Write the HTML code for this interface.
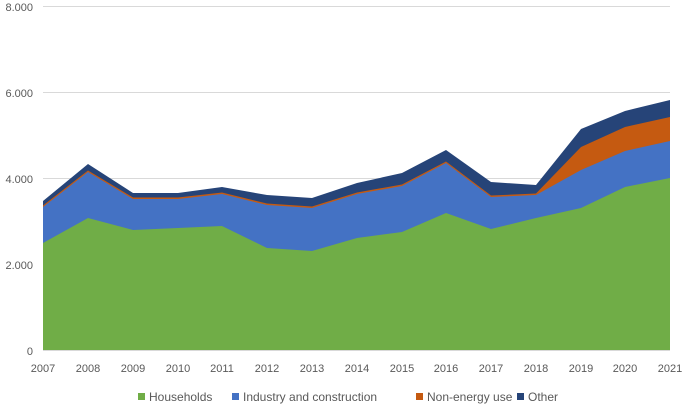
<!DOCTYPE html><html><head><style>body{margin:0;background:#fff}svg{display:block;font-family:"Liberation Sans",sans-serif}</style></head><body>
<svg width="685" height="411" viewBox="0 0 685 411">
<g stroke="#d9d9d9" stroke-width="1"><line x1="43" x2="670" y1="6.5" y2="6.5"/><line x1="43" x2="670" y1="92.5" y2="92.5"/><line x1="43" x2="670" y1="178.5" y2="178.5"/><line x1="43" x2="670" y1="264.5" y2="264.5"/></g>
<g font-size="11" fill="#595959" text-anchor="end"><text x="33" y="11">8.000</text><text x="33" y="97">6.000</text><text x="33" y="183">4.000</text><text x="33" y="269">2.000</text><text x="33" y="355">0</text></g>
<polygon fill="#264478" points="43,350 43,201 88,164 133,193 178,193 222,187 267,195 312,198 357,183 402,173 446,150 491,182 536,185 581,129 625,111 670,100 670,350"/>
<polygon fill="#c55a11" points="43,350 43,205.5 88,170.5 133,197.5 178,197.5 222,192.5 267,203.5 312,206.5 357,192.5 402,184.5 446,161.5 491,195.5 536,193.5 581,147 625,127 670,117 670,350"/>
<polygon fill="#4472c4" points="43,350 43,207 88,172 133,199 178,199 222,194 267,205 312,208 357,194 402,186 446,163 491,197 536,195 581,170 625,151 670,141 670,350"/>
<polygon fill="#70ad47" points="43,350 43,243 88,218 133,230 178,228 222,226 267,248 312,251 357,238 402,232 446,213 491,229 536,218 581,208 625,187 670,178 670,350"/>
<line x1="43" x2="670" y1="350.5" y2="350.5" stroke="#d9d9d9"/>
<g font-size="11" fill="#595959" text-anchor="middle"><text x="43" y="372">2007</text><text x="88" y="372">2008</text><text x="133" y="372">2009</text><text x="178" y="372">2010</text><text x="222" y="372">2011</text><text x="267" y="372">2012</text><text x="312" y="372">2013</text><text x="357" y="372">2014</text><text x="402" y="372">2015</text><text x="446" y="372">2016</text><text x="491" y="372">2017</text><text x="536" y="372">2018</text><text x="581" y="372">2019</text><text x="625" y="372">2020</text><text x="670" y="372">2021</text></g>
<g font-size="12" fill="#595959"><rect x="138" y="393" width="7" height="7" fill="#70ad47"/><text x="149" y="401">Households</text><rect x="232" y="393" width="7" height="7" fill="#4472c4"/><text x="243" y="401">Industry and construction</text><rect x="416" y="393" width="7" height="7" fill="#c55a11"/><text x="427" y="401">Non-energy use</text><rect x="517" y="393" width="7" height="7" fill="#264478"/><text x="528" y="401">Other</text></g>
</svg></body></html>
